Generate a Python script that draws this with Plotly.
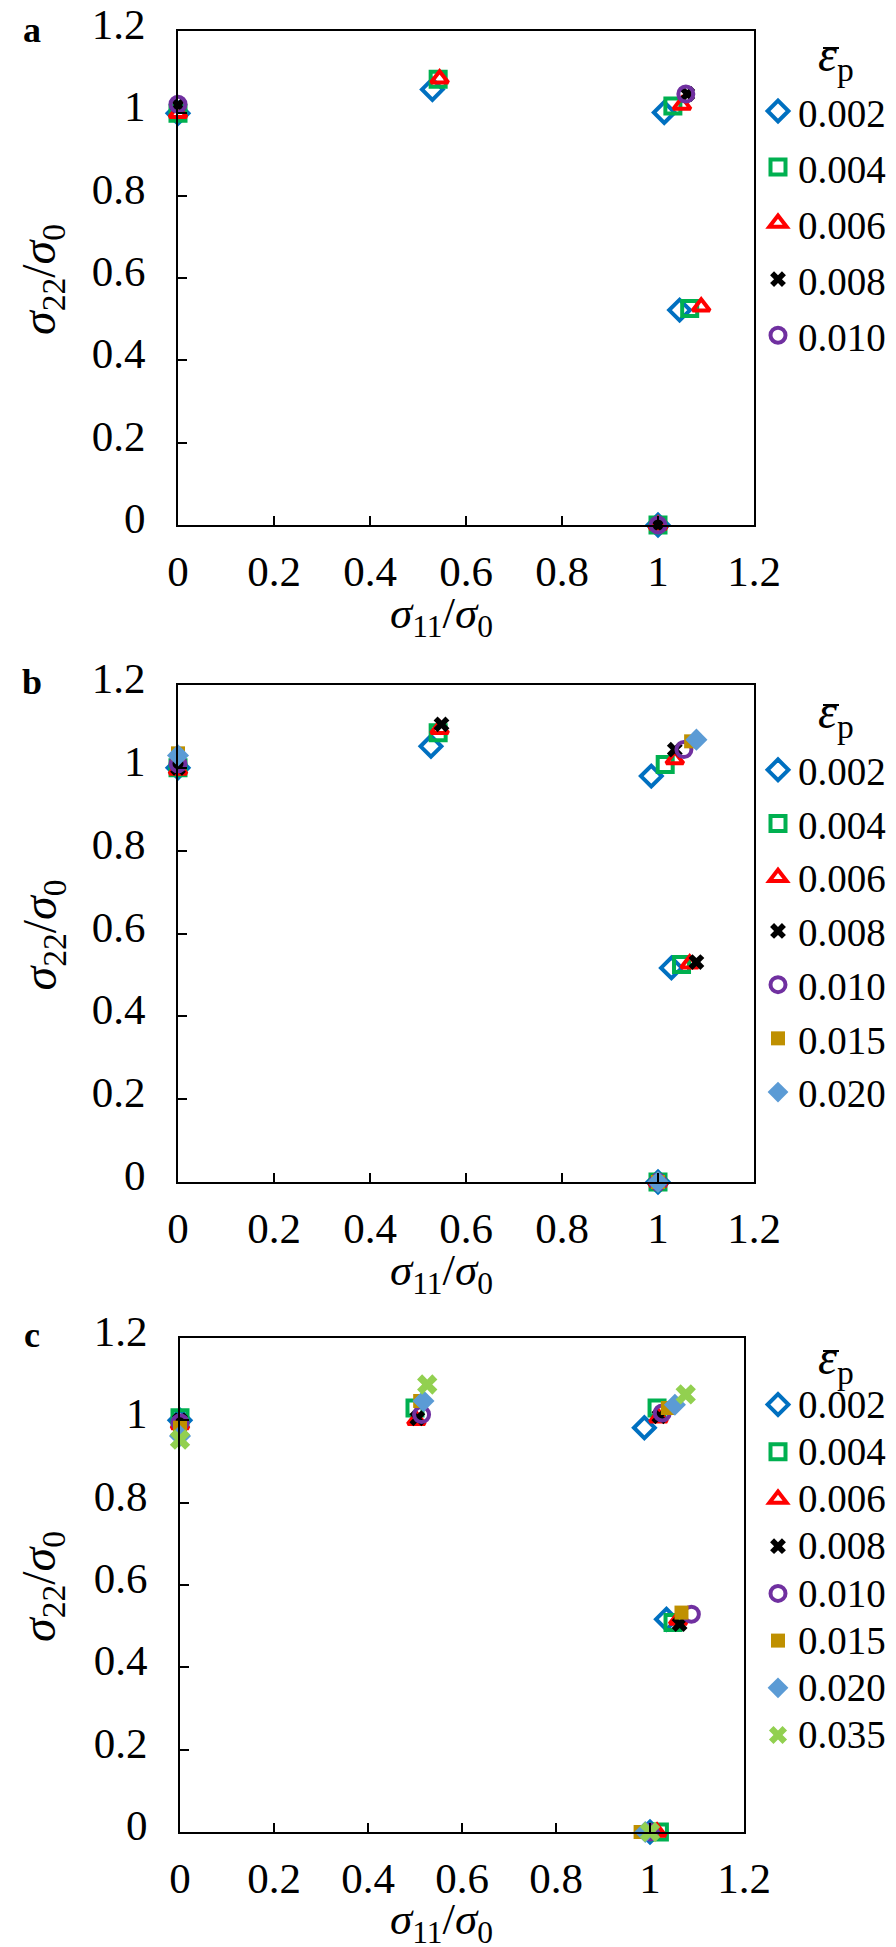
import plotly.graph_objects as go

SERIF = "Liberation Serif, Times New Roman, Times, serif"
W, H = 896, 1947

strain_labels = ["0.002", "0.004", "0.006", "0.008", "0.010", "0.015", "0.020", "0.035"]

# panel a : sigma11/sigma0 (x) and sigma22/sigma0 (y) per equivalent plastic strain
a_x_002 = [0, 0.530, 1.013, 1.045, 1.0]
a_y_002 = [1.0, 1.058, 1.002, 0.522, 0]
a_x_004 = [0, 0.542, 1.031, 1.066, 1.0]
a_y_004 = [1.0, 1.083, 1.018, 0.526, 0]
a_x_006 = [0, 0.545, 1.050, 1.090, 1.0]
a_y_006 = [1.0, 1.084, 1.020, 0.530, 0]
a_x_008 = [0, 1.061, 1.0]
a_y_008 = [1.02, 1.047, 0]
a_x_010 = [0, 1.058, 1.0]
a_y_010 = [1.022, 1.047, 0]

# panel b
b_x_002 = [0, 0.527, 0.986, 1.028, 1.0]
b_y_002 = [1.0, 1.052, 0.980, 0.517, 0]
b_x_004 = [0, 0.542, 1.015, 1.049, 1.0]
b_y_004 = [1.0, 1.085, 1.008, 0.525, 0]
b_x_006 = [0, 0.545, 1.035, 1.066, 1.0]
b_y_006 = [0.995, 1.093, 1.020, 0.527, 0]
b_x_008 = [0, 0.549, 1.035, 1.080, 1.0]
b_y_008 = [1.0, 1.105, 1.044, 0.531, 0]
b_x_010 = [0, 1.054, 1.0]
b_y_010 = [1.01, 1.044, 0]
b_x_015 = [0, 1.069, 1.0]
b_y_015 = [1.035, 1.064, 0]
b_x_020 = [0, 1.080, 1.0]
b_y_020 = [1.03, 1.068, 0]

# panel c
c_x_002 = [0, 0.988, 1.035, 1.0]
c_y_002 = [1.0, 0.982, 0.517, 0]
c_x_004 = [0, 0.500, 1.015, 1.049, 1.02]
c_y_004 = [1.006, 1.030, 1.030, 0.509, 0]
c_x_006 = [0, 0.503, 1.018, 1.060, 1.015]
c_y_006 = [0.99, 1.000, 1.006, 0.515, 0]
c_x_008 = [0, 0.505, 1.020, 1.063, 1.0]
c_y_008 = [1.0, 1.005, 1.010, 0.505, 0]
c_x_010 = [0, 0.514, 1.026, 1.088, 1.0]
c_y_010 = [0.994, 1.014, 1.018, 0.529, 0]
c_x_015 = [0, 0.511, 1.038, 1.067, 0.98]
c_y_015 = [0.982, 1.047, 1.030, 0.533, 0]
c_x_020 = [0, 0.518, 1.053, 0.99]
c_y_020 = [0.962, 1.047, 1.038, 0]
c_x_035 = [0, 0.526, 1.076, 1.0]
c_y_035 = [0.953, 1.087, 1.063, 0]

panels = [
    ("a", [(a_x_002, a_y_002), (a_x_004, a_y_004), (a_x_006, a_y_006),
           (a_x_008, a_y_008), (a_x_010, a_y_010)]),
    ("b", [(b_x_002, b_y_002), (b_x_004, b_y_004), (b_x_006, b_y_006),
           (b_x_008, b_y_008), (b_x_010, b_y_010), (b_x_015, b_y_015),
           (b_x_020, b_y_020)]),
    ("c", [(c_x_002, c_y_002), (c_x_004, c_y_004), (c_x_006, c_y_006),
           (c_x_008, c_y_008), (c_x_010, c_y_010), (c_x_015, c_y_015),
           (c_x_020, c_y_020), (c_x_035, c_y_035)]),
]

# marker look per strain level (Excel-like)
styles = [
    dict(symbol="diamond-open", color="#0070C0", size=16, line=dict(width=4, color="#0070C0")),
    dict(symbol="square-open", color="#00B050", size=15, line=dict(width=4, color="#00B050")),
    dict(symbol="triangle-up-open", color="#FF0000", size=15, line=dict(width=4, color="#FF0000")),
    dict(symbol="x", color="#000000", size=14),
    dict(symbol="circle-open", color="#7030A0", size=15, line=dict(width=4, color="#7030A0")),
    dict(symbol="square", color="#BF9000", size=14),
    dict(symbol="diamond", color="#5B9BD5", size=17),
    dict(symbol="x", color="#92D050", size=18),
]

# pixel layout of the three panels (left, right, top, bottom)
boxes = [(170, 746, 23, 517), (170, 746, 677, 1174), (172, 736, 1330, 1824)]
legend_tops = [70, 730, 1368]
legend_sizes = [40.8, 39, 34]     # sets the row pitch of each legend
heading_y = [77, 734, 1380]       # reference line for the epsilon-bar heading
letter_y = [29, 681, 1334]

fig = go.Figure()

for i, (tag, series) in enumerate(panels):
    ax = "" if i == 0 else str(i + 1)
    lg = "legend" if i == 0 else "legend" + str(i + 1)
    for k, (xs, ys) in enumerate(series):
        fig.add_trace(go.Scatter(
            x=xs, y=ys, mode="markers",
            name='<span style="font-size:39px">' + strain_labels[k] + "</span>",
            marker=styles[k], cliponaxis=False,
            xaxis="x" + ax, yaxis="y" + ax, legend=lg,
        ))

    l, r, t, b = boxes[i]
    common = dict(
        range=[0, 1.2], tick0=0, dtick=0.2, ticks="inside", ticklen=9,
        tickwidth=2, tickcolor="black", showline=True, linecolor="black",
        linewidth=2, mirror=True, showgrid=False, zeroline=False,
        automargin=False, ticklabeloverflow="allow",
        tickfont=dict(family=SERIF, size=43, color="black"),
    )
    fig.update_layout({
        "xaxis" + ax: dict(common, domain=[l / W, r / W], anchor="y" + ax,
                           ticklabelstandoff=7),
        "yaxis" + ax: dict(common, domain=[1 - b / H, 1 - t / H], anchor="x" + ax,
                           ticklabelstandoff=22, ticklabelshift=-7),
        lg: dict(
            x=750 / W, y=1 - legend_tops[i] / H, xanchor="left", yanchor="top",
            font=dict(family=SERIF, size=legend_sizes[i], color="black"),
            bgcolor="rgba(0,0,0,0)", itemwidth=30, tracegroupgap=0,
        ),
    })

    def note(text, x, y, size, **kw):
        fig.add_annotation(text=text, x=x / W, y=1 - y / H, xref="paper", yref="paper",
                           showarrow=False, xanchor=kw.pop("xanchor", "center"),
                           yanchor="middle", font=dict(family=SERIF, size=size, color="black"),
                           **kw)

    # axis titles
    note("<i>σ</i><sub>11</sub>/<i>σ</i><sub>0</sub>", 433, b + (91 if i < 2 else 90), 45)
    note("<i>σ</i><sub>22</sub>/<i>σ</i><sub>0</sub>", 34, (t + b) / 2 + 2, 48, textangle=-90)
    # panel letter
    note("<b>" + tag + "</b>", 24, letter_y[i] - 7, 36)
    # legend heading: epsilon with subscript p, bar drawn over the epsilon
    note("<i>ε</i><sub>p</sub>", 808, heading_y[i] - 27, 48, xanchor="left")
    fig.add_shape(type="line", xref="paper", yref="paper",
                  x0=815 / W, x1=831 / W, y0=1 - (heading_y[i] - 37) / H,
                  y1=1 - (heading_y[i] - 37) / H, line=dict(color="black", width=2))

fig.update_layout(
    width=W, height=H,
    margin=dict(l=0, r=0, t=0, b=0),
    paper_bgcolor="white", plot_bgcolor="white",
    font=dict(family=SERIF, color="black"),
)

fig.write_html("out.html")
